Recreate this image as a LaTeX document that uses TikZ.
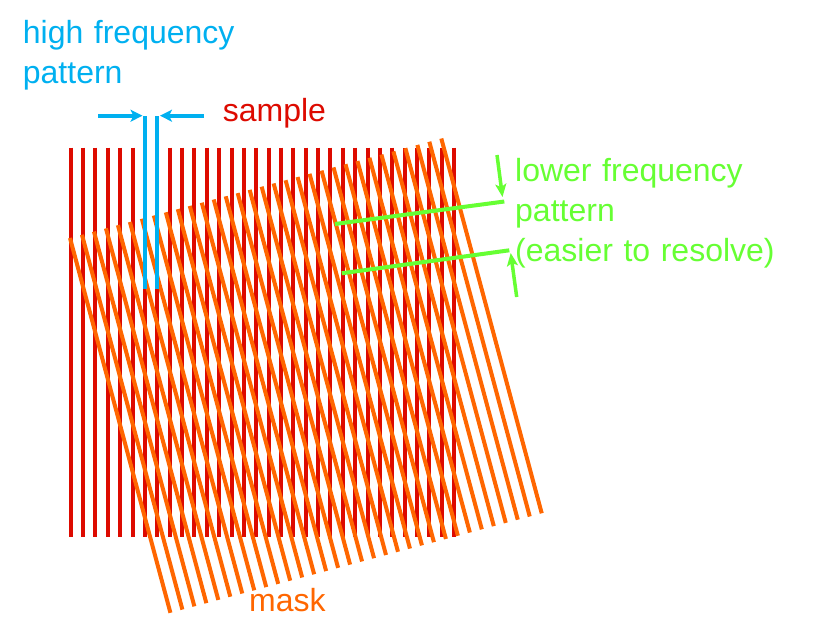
\documentclass[tikz,border=0pt]{standalone}
\usepackage{fontspec}
\setmainfont{Liberation Sans}
\usetikzlibrary{arrows.meta}
\definecolor{sred}{RGB}{221,10,0}
\definecolor{morange}{RGB}{255,102,0}
\definecolor{hblue}{RGB}{0,176,240}
\definecolor{lgreen}{RGB}{102,255,51}
\newcommand{\lblfont}{\fontsize{32pt}{40pt}\selectfont\spaceskip=0.33em plus 0.1em\relax}
\begin{document}
\begin{tikzpicture}[x=1pt,y=-1pt,
  lbl/.style={inner sep=0pt,anchor=base west,font=\lblfont},
  sampleline/.style={draw=sred,line width=4pt},
  maskline/.style={draw=morange,line width=4pt},
  blueline/.style={draw=hblue,line width=4pt},
  bluearrow/.style={draw=hblue,line width=4pt,-{Stealth[length=12pt,width=12pt,inset=3pt]}},
  greenline/.style={draw=lgreen,line width=4pt},
  greenarrow/.style={draw=lgreen,line width=3.5pt,-{Stealth[length=13pt,width=11pt,inset=3pt]}}]
\useasboundingbox (0,0) rectangle (816,643);
% sample grating
\foreach \i in {0,...,31}
  \draw[sampleline] ({70.7+\i*12.37},147.7) -- ({70.7+\i*12.37},536.7);
% mask grating (rotated 15 degrees)
\foreach \i in {0,...,31}
  \draw[maskline] ({70+\i*12.4*cos(15)},{238-\i*12.4*sin(15)}) -- ++({388*sin(15)},{388*cos(15)});
% high frequency pattern marker
\coordinate (b1t) at (145.2,116);
\coordinate (b1b) at (145.2,289);
\coordinate (b2t) at (157.2,116);
\coordinate (b2b) at (157.2,289);
\draw[blueline] (b1t) -- (b1b);
\draw[blueline] (b2t) -- (b2b);
\coordinate (la) at (98,115.7);
\coordinate (lb) at (142.5,115.7);
\coordinate (ra) at (204,115.7);
\coordinate (rb) at (160,115.7);
\draw[bluearrow] (la) -- (lb);
\draw[bluearrow] (ra) -- (rb);
% lower frequency pattern markers
\coordinate (g1a) at (335,224);
\coordinate (g1b) at (504.3,201.5);
\coordinate (g2a) at (341.7,273.3);
\coordinate (g2b) at (509.3,250.3);
\draw[greenline] (g1a) -- (g1b);
\draw[greenline] (g2a) -- (g2b);
\coordinate (ga1) at (497,155);
\coordinate (ga2) at (502.5,197);
\coordinate (gb1) at (516.7,297);
\coordinate (gb2) at (510.7,253);
\draw[greenarrow] (ga1) -- (ga2);
\draw[greenarrow] (gb1) -- (gb2);
% labels
\node[lbl,text=hblue] (hf1) at (22.7,43.3) {high frequency};
\node[lbl,text=hblue] (hf2) at (22.7,83.3) {pattern};
\node[lbl,text=sred] (smp) at (222.7,121.7) {sample};
\node[lbl,text=morange] (msk) at (249,611.7) {mask};
\node[lbl,text=lgreen] (lf1) at (515,181.7) {lower frequency};
\node[lbl,text=lgreen] (lf2) at (515,221.7) {pattern};
\node[lbl,text=lgreen] (lf3) at (515,261.7) {(easier to resolve)};
\end{tikzpicture}
\end{document}
